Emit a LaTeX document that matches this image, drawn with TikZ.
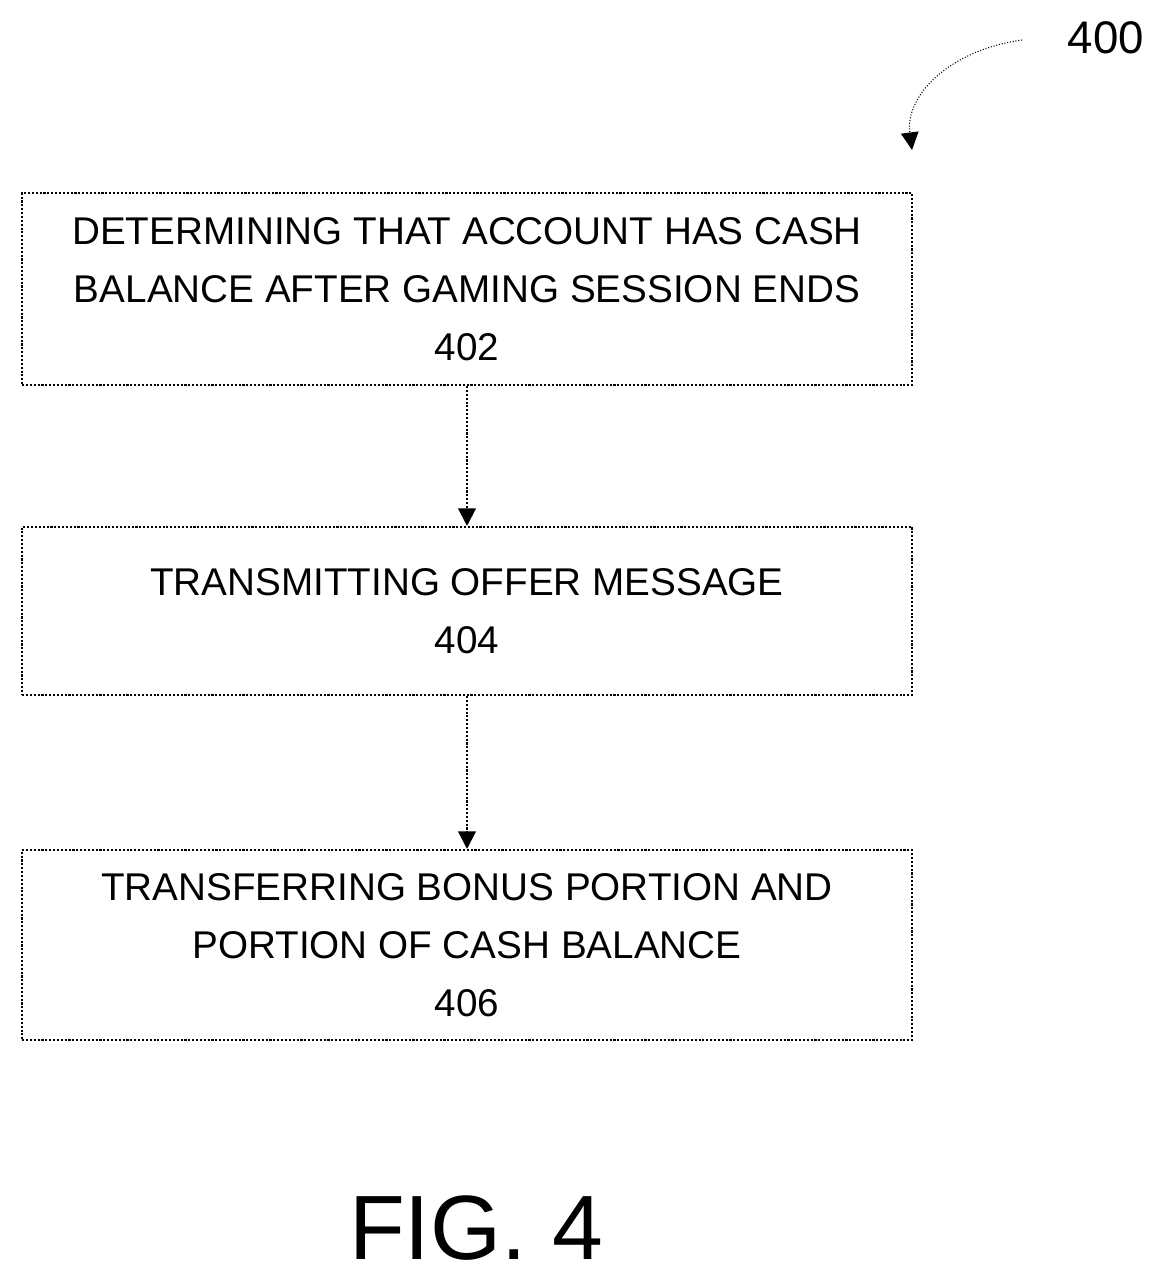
\documentclass[tikz,border=0pt]{standalone}
\usepackage{fontspec}
\setmainfont{Liberation Sans}
\usetikzlibrary{arrows.meta}
\begin{document}
\begin{tikzpicture}[x=0.02cm,y=-0.02cm,
	stepbox/.style={draw,densely dotted,line width=1.2pt,minimum width=17.8cm,align=center,font=\fontsize{22}{33}\selectfont},
	flow/.style={densely dotted,line width=1.2pt,-{Triangle[length=10pt,width=10pt]}}]
		\useasboundingbox (0,0) rectangle (1166,1285);
		% steps
		\node[stepbox,minimum height=3.84cm] (s402) at (467,289) {DETERMINING THAT ACCOUNT HAS CASH\\BALANCE AFTER GAMING SESSION ENDS\\402};
		\node[stepbox,minimum height=3.36cm] (s404) at (467,611) {TRANSMITTING OFFER MESSAGE\\404};
		\node[stepbox,minimum height=3.8cm] (s406) at (467,945) {TRANSFERRING BONUS PORTION AND\\PORTION OF CASH BALANCE\\406};
		\draw[flow] (s402) -- (s404);
		\draw[flow] (s404) -- (s406);
		% reference label
		\node[font=\fontsize{26}{30}\selectfont] (ref) at (1106,38) {400};
		\coordinate (tip) at (912,150);
		\draw[flow,line width=0.6pt] (1022,40) .. controls (950,50) and (905,95) .. (tip);
		\node[font=\fontsize{52}{56}\selectfont] (fig) at (476,1228) {FIG. 4};
	\end{tikzpicture}
\end{document}
